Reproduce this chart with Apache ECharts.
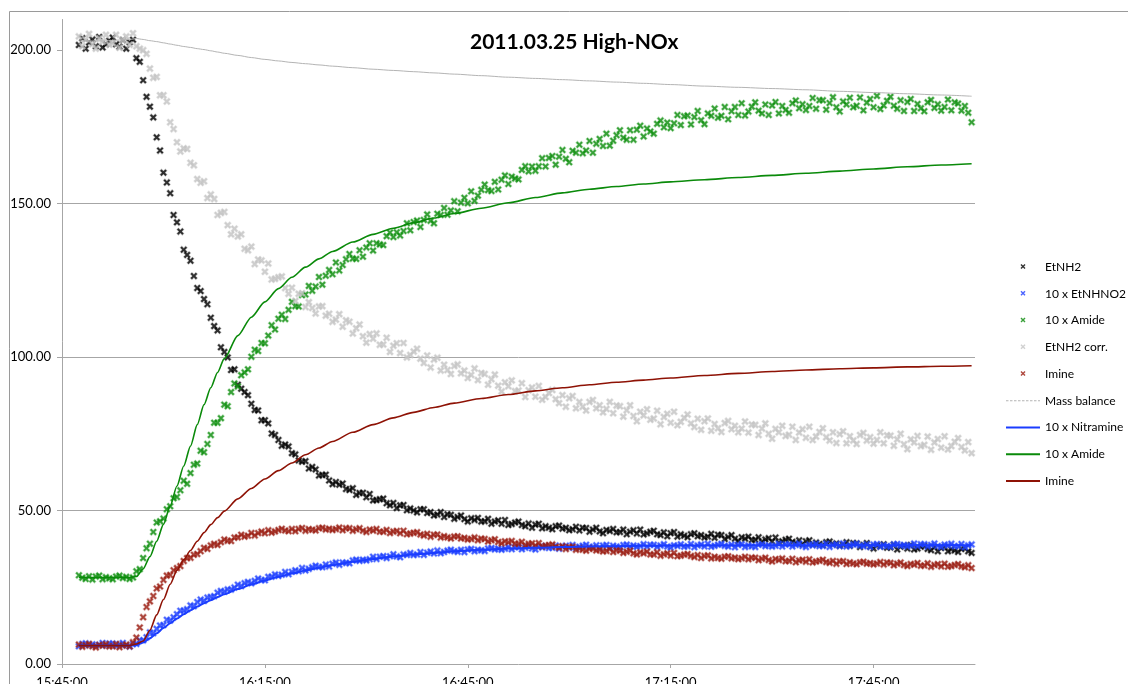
<!DOCTYPE html>
<html>
<head>
<meta charset="utf-8">
<title>2011.03.25 High-NOx</title>
<script src="https://cdn.jsdelivr.net/npm/echarts@6/dist/echarts.min.js"></script>
<style>
  html, body { margin: 0; padding: 0; background: #fff; }
  #chart { width: 1128px; height: 684px; }
</style>
</head>
<body>
<div id="chart"></div>
<script>
// Sample clock: minutes after 15:45:00
const sampleMinutes = [
  2.5,3,3.5,4,4.5,5,5.5,6,6.5,7,
  7.5,8,8.5,9,9.5,10,10.5,11,11.5,12,
  12.5,13,13.5,14,14.5,15,15.5,16,16.5,17,
  17.5,18,18.5,19,19.5,20,20.5,21,21.5,22,
  22.5,23,23.5,24,24.5,25,25.5,26,26.5,27,
  27.5,28,28.5,29,29.5,30,30.5,31,31.5,32,
  32.5,33,33.5,34,34.5,35,35.5,36,36.5,37,
  37.5,38,38.5,39,39.5,40,40.5,41,41.5,42,
  42.5,43,43.5,44,44.5,45,45.5,46,46.5,47,
  47.5,48,48.5,49,49.5,50,50.5,51,51.5,52,
  52.5,53,53.5,54,54.5,55,55.5,56,56.5,57,
  57.5,58,58.5,59,59.5,60,60.5,61,61.5,62,
  62.5,63,63.5,64,64.5,65,65.5,66,66.5,67,
  67.5,68,68.5,69,69.5,70,70.5,71,71.5,72,
  72.5,73,73.5,74,74.5,75,75.5,76,76.5,77,
  77.5,78,78.5,79,79.5,80,80.5,81,81.5,82,
  82.5,83,83.5,84,84.5,85,85.5,86,86.5,87,
  87.5,88,88.5,89,89.5,90,90.5,91,91.5,92,
  92.5,93,93.5,94,94.5,95,95.5,96,96.5,97,
  97.5,98,98.5,99,99.5,100,100.5,101,101.5,102,
  102.5,103,103.5,104,104.5,105,105.5,106,106.5,107,
  107.5,108,108.5,109,109.5,110,110.5,111,111.5,112,
  112.5,113,113.5,114,114.5,115,115.5,116,116.5,117,
  117.5,118,118.5,119,119.5,120,120.5,121,121.5,122,
  122.5,123,123.5,124,124.5,125,125.5,126,126.5,127,
  127.5,128,128.5,129,129.5,130,130.5,131,131.5,132,
  132.5,133,133.5,134,134.5
];

// Measured EtNH2
const etnh2 = [
  201.7,203.9,200.5,202.5,203.5,201.3,204.3,200.9,201.9,203.1,
  204.1,201.9,201.1,203.3,200.5,202.6,203.4,197.4,196.2,190.2,
  184.8,181.6,178.1,171.6,167.3,160.1,156.9,153.4,146.3,143.9,
  140.9,135.0,133.3,131.4,126.4,122.5,121.5,118.9,117.2,112.8,
  110.1,108.7,103.2,101.7,99.9,95.8,96.0,91.0,89.7,88.6,
  87.6,84.8,82.8,82.6,79.4,79.4,78.4,75.1,74.6,73.0,
  71.1,71.5,70.9,68.7,68.3,66.3,65.9,66.1,63.7,64.2,
  63.4,61.4,61.6,61.7,59.8,58.6,59.3,58.4,58.8,57.0,
  56.7,57.3,55.1,55.7,55.8,54.3,55.4,53.3,53.4,53.7,
  53.9,52.4,51.7,52.5,50.8,51.7,51.8,50.1,50.7,50.0,
  49.4,50.4,50.4,49.2,49.5,48.4,48.7,49.5,47.9,48.8,
  48.6,47.3,47.9,48.4,47.2,46.4,47.5,46.9,47.6,46.4,
  46.5,47.3,45.7,46.4,46.8,45.7,46.9,45.3,45.6,46.1,
  46.4,45.3,44.9,45.8,44.4,45.4,45.7,44.2,44.9,44.4,
  43.9,44.9,45.1,44.1,44.4,43.6,43.9,44.7,43.5,44.4,
  44.3,43.1,43.8,44.4,43.2,42.6,43.7,43.3,44.0,42.9,
  43.0,43.8,42.3,43.1,43.6,42.5,43.8,42.2,42.6,43.1,
  43.4,42.3,42.0,42.9,41.6,42.6,43.0,41.5,42.3,41.8,
  41.3,42.3,42.6,41.6,42.0,41.2,41.5,42.4,41.1,42.1,
  42.0,40.7,41.4,42.0,40.8,40.1,41.3,40.8,41.5,40.4,
  40.5,41.3,39.8,40.6,41.0,39.9,41.2,39.6,40.0,40.5,
  40.8,39.8,39.4,40.3,39.0,40.0,40.3,38.9,39.6,39.1,
  38.7,39.7,39.9,39.0,39.3,38.5,38.9,39.7,38.5,39.4,
  39.3,38.1,38.8,39.4,38.2,37.6,38.7,38.3,39.0,37.9,
  38.0,38.9,37.3,38.2,38.6,37.6,38.8,37.3,37.6,38.2,
  38.5,37.5,37.1,38.1,36.7,37.8,38.1,36.7,37.4,37.0,
  36.5,37.5,37.7,36.7,36.2
];

// Measured EtNHNO2, scaled x10
const etnhno2X10 = [
  5.8,6.55,6.7,6.1,6.4,5.95,6.25,6.85,6.0,6.65,
  6.65,5.9,6.4,6.85,6.05,5.7,6.5,6.55,7.7,7.7,
  8.7,10.3,10.05,11.45,12.55,12.7,14.4,14.2,15.2,16.25,
  17.35,17.4,17.85,19.1,18.85,20.2,21.0,20.6,21.65,21.85,
  22.1,23.25,23.8,23.6,24.3,24.25,24.95,25.85,25.4,26.35,
  26.75,26.3,27.1,27.85,27.35,27.3,28.4,28.45,29.2,28.7,
  29.1,30.0,29.25,30.05,30.55,30.2,31.3,30.5,31.0,31.55,
  32.05,31.6,31.55,32.4,31.75,32.7,33.1,32.3,33.05,32.95,
  32.8,33.75,34.0,33.6,34.0,33.75,34.15,34.95,34.2,34.95,
  35.15,34.5,35.1,35.75,35.05,34.8,35.7,35.55,36.2,35.5,
  35.7,36.5,35.55,36.25,36.65,36.0,37.0,36.1,36.5,36.95,
  37.25,36.7,36.55,37.2,36.45,37.3,37.5,36.7,37.25,37.05,
  36.8,37.65,37.8,37.3,37.6,37.25,37.55,38.15,37.4,38.05,
  38.15,37.4,37.9,38.45,37.65,37.3,38.2,37.95,38.5,37.8,
  37.9,38.6,37.55,38.25,38.55,37.9,38.8,37.9,38.2,38.55,
  38.85,38.2,38.05,38.7,37.85,38.6,38.8,37.9,38.55,38.25,
  38.0,38.75,38.9,38.3,38.6,38.15,38.45,39.05,38.2,38.85,
  38.85,38.1,38.6,39.05,38.25,37.9,38.7,38.45,39.0,38.2,
  38.4,39.1,38.05,38.65,38.95,38.3,39.2,38.2,38.5,38.85,
  39.15,38.5,38.25,38.9,38.05,38.8,39.0,38.1,38.65,38.35,
  38.1,38.85,39.0,38.4,38.7,38.25,38.55,39.15,38.3,38.95,
  39.05,38.3,38.8,39.25,38.45,38.1,38.9,38.65,39.2,38.4,
  38.5,39.2,38.15,38.75,39.05,38.4,39.3,38.3,38.6,38.95,
  39.25,38.6,38.35,39.0,38.15,38.9,39.1,38.2,38.75,38.45,
  38.2,38.95,39.1,38.5,38.8,38.35,38.65,39.25,38.4,39.05,
  39.05,38.3,38.8,39.25,38.45,38.1,38.9,38.65,39.2,38.4,
  38.4,39.1,38.05,38.65,38.95
];

// Measured amide, scaled x10
const amideX10 = [
  28.9,28.1,27.7,28.6,27.5,28.5,28.8,27.6,28.3,27.9,
  27.6,28.5,28.8,28.0,28.4,27.7,28.2,30.2,30.9,34.5,
  37.7,39.2,43.0,46.1,46.5,47.4,50.4,51.4,54.0,54.4,
  56.6,59.7,58.7,62.2,64.9,65.3,69.5,69.0,71.7,74.6,
  78.6,78.6,80.1,84.5,84.0,88.6,91.4,90.4,94.1,95.0,
  96.0,100.1,102.4,102.0,104.6,104.5,107.0,110.4,109.0,112.5,
  113.8,112.4,115.4,118.0,116.6,116.5,120.2,120.4,123.2,121.6,
  123.0,126.1,123.6,126.5,128.4,127.0,130.8,128.2,130.0,131.9,
  133.6,132.1,132.0,134.8,132.7,135.7,137.1,134.7,137.1,136.7,
  136.5,139.4,140.6,139.1,140.7,139.6,141.1,143.6,141.3,144.0,
  144.5,142.4,144.7,146.5,144.4,143.6,146.7,146.3,148.6,146.4,
  147.8,150.8,147.5,150.3,151.9,150.1,154.0,150.9,152.6,154.5,
  156.2,154.4,154.1,157.1,154.6,157.8,159.2,156.4,158.8,158.2,
  157.9,161.0,162.2,160.5,162.1,160.7,162.2,164.8,162.1,164.9,
  165.5,162.7,165.3,167.5,164.6,163.5,167.2,166.6,169.2,166.4,
  167.3,170.4,166.6,169.5,171.1,168.8,172.8,168.9,170.5,172.3,
  173.9,171.5,170.8,173.9,170.8,174.1,175.4,171.9,174.5,173.5,
  172.8,176.0,177.1,174.9,176.4,174.6,176.2,178.9,175.6,178.5,
  178.7,175.8,178.2,180.2,177.2,175.9,179.4,178.6,181.0,178.0,
  178.6,181.5,177.5,180.1,181.5,178.9,182.7,178.7,180.0,181.6,
  183.0,180.3,179.4,182.3,178.9,182.0,183.1,179.4,181.8,180.5,
  179.6,182.7,183.6,181.1,182.4,180.5,181.8,184.4,180.9,183.7,
  183.7,180.6,182.8,184.7,181.4,180.0,183.3,182.3,184.5,181.4,
  181.9,184.6,180.4,182.9,184.1,181.4,185.1,180.8,182.0,183.5,
  184.8,181.9,180.9,183.7,180.2,183.1,184.1,180.2,182.5,181.1,
  180.1,183.0,183.8,181.2,182.4,180.3,181.5,183.9,180.4,183.0,
  182.6,180.3,181.8,179.6,176.5
];

// EtNH2 corrected for dilution
const etnh2Corr = [
  204.5,201.3,203.5,205.3,202.0,200.5,203.8,202.8,205.0,201.8,
  202.3,205.0,200.8,203.3,204.5,201.8,205.5,201.3,200.5,200.0,
  198.8,194.0,191.0,191.3,185.3,185.3,183.3,176.5,174.3,170.0,
  167.0,168.0,167.8,163.3,162.5,158.0,156.8,157.3,151.8,153.0,
  151.5,146.3,147.0,147.3,143.0,140.0,141.8,139.3,140.0,135.3,
  134.8,136.0,130.3,131.8,131.5,127.8,130.5,125.3,125.5,126.0,
  126.3,122.5,120.6,122.6,118.3,120.6,120.8,116.3,117.9,116.0,
  114.2,116.5,116.6,113.5,114.1,111.5,112.2,114.0,109.9,112.0,
  111.5,107.7,109.4,110.6,106.8,104.7,107.5,106.0,107.7,104.0,
  104.1,106.3,101.7,103.7,104.5,101.3,104.6,99.9,100.7,101.8,
  102.7,99.5,98.1,100.5,96.6,99.2,99.8,95.6,97.5,95.8,
  94.5,97.1,97.6,94.7,95.6,93.2,94.2,96.3,92.5,94.8,
  94.5,91.0,92.8,94.3,90.7,88.8,91.8,90.5,92.4,88.9,
  89.1,91.5,87.0,89.2,90.1,87.1,90.6,86.1,87.0,88.3,
  89.3,86.3,85.0,87.6,83.8,86.6,87.3,83.3,85.4,83.8,
  82.6,85.4,86.0,83.3,84.3,82.0,83.1,85.4,81.7,84.2,
  84.0,80.6,82.7,84.3,80.8,79.1,82.2,81.0,83.0,79.6,
  80.0,82.5,78.1,80.5,81.5,78.6,82.2,77.8,78.9,80.2,
  81.3,78.4,77.2,79.9,76.3,79.1,80.0,76.0,78.2,76.8,
  75.6,78.5,79.2,76.5,77.6,75.5,76.7,79.0,75.4,78.0,
  77.9,74.6,76.7,78.4,75.0,73.4,76.6,75.5,77.6,74.3,
  74.7,77.3,73.0,75.4,76.5,73.7,77.3,73.0,74.1,75.6,
  76.8,73.9,72.8,75.5,72.0,74.9,75.8,71.9,74.2,72.8,
  71.7,74.6,75.3,72.8,73.9,71.8,73.0,75.5,71.9,74.5,
  74.4,71.1,73.2,75.0,71.6,70.0,73.2,72.2,74.3,71.0,
  71.4,74.1,69.8,72.2,73.3,70.5,74.2,69.9,71.0,72.4,
  73.6,70.7,69.6,72.3,68.7
];

// Measured imine
const imine = [
  6.35,5.6,6.1,6.55,5.75,5.4,6.2,5.95,6.5,5.7,
  5.8,6.5,5.45,6.05,6.35,5.7,7.1,8.6,11.9,15.25,
  18.55,20.4,22.15,24.6,25.25,27.4,28.8,29.0,30.55,31.25,
  31.9,33.55,34.5,34.6,35.6,35.85,36.75,37.85,37.5,38.65,
  39.15,38.8,39.7,40.55,40.15,40.1,41.2,41.25,42.1,41.5,
  41.8,42.7,41.85,42.65,43.15,42.6,43.6,42.8,43.2,43.65,
  44.05,43.5,43.25,44.0,43.25,44.0,44.3,43.4,43.95,43.75,
  43.5,44.25,44.4,43.8,44.1,43.65,43.95,44.45,43.6,44.25,
  44.25,43.4,43.9,44.25,43.45,43.0,43.8,43.45,44.0,43.1,
  43.1,43.7,42.65,43.15,43.35,42.6,43.4,42.3,42.5,42.75,
  42.95,42.2,41.85,42.4,41.45,42.1,42.2,41.2,41.65,41.25,
  40.9,41.55,41.6,40.9,41.1,40.55,40.75,41.25,40.3,40.85,
  40.75,39.9,40.3,40.65,39.75,39.3,40.0,39.65,40.1,39.2,
  39.2,39.8,38.65,39.15,39.35,38.6,39.4,38.3,38.5,38.75,
  38.95,38.2,37.85,38.4,37.45,38.1,38.2,37.2,37.65,37.25,
  36.9,37.55,37.6,37.0,37.2,36.65,36.85,37.45,36.5,37.05,
  36.95,36.2,36.6,36.95,36.05,35.7,36.4,36.05,36.6,35.7,
  35.7,36.4,35.25,35.75,36.05,35.3,36.2,35.1,35.3,35.65,
  35.85,35.2,34.85,35.5,34.55,35.2,35.4,34.4,34.95,34.55,
  34.3,34.95,35.1,34.4,34.7,34.15,34.45,34.95,34.1,34.65,
  34.65,33.8,34.3,34.65,33.85,33.4,34.2,33.85,34.4,33.5,
  33.6,34.3,33.15,33.75,33.95,33.3,34.1,33.1,33.4,33.65,
  33.95,33.2,32.95,33.6,32.65,33.4,33.5,32.6,33.15,32.75,
  32.5,33.15,33.3,32.7,32.9,32.45,32.75,33.25,32.4,33.05,
  32.95,32.2,32.7,33.05,32.25,31.9,32.6,32.35,32.9,32.0,
  32.1,32.8,31.65,32.25,32.55,31.8,32.7,31.7,31.9,32.25,
  32.55,31.8,31.55,32.2,31.25
];

// Model output, minutes after 15:45:00
const modelMinutes = [2.5,6,10,11,12,13,14,15,16,17,18,19,20,21,22,23,24,26,28,30,32,34,36,38,40,43,46,49,52,55,58,62,66,70,74,78,82,86,90,95,100,105,110,115,120,125,130,134.5];
const massBalance = [203,203,203.5,203.8,203.5,203.1,202.8,202.4,202,201.6,201.2,200.9,200.5,200.2,199.8,199.4,199,198.3,197.6,197,196.5,196,195.6,195.2,194.8,194.3,193.8,193.4,193,192.6,192.2,191.7,191.2,190.8,190.4,190,189.6,189.2,188.8,188.3,187.9,187.5,187.1,186.6,186.2,185.8,185.4,185];
const nitramineModelX10 = [6,6,6,6.2,7,8.4,10,11.7,13.3,14.8,16.2,17.5,18.7,19.8,20.8,21.8,22.7,24.4,25.9,27.2,28.4,29.5,30.5,31.4,32.2,33.3,34.2,35,35.7,36.2,36.7,37.2,37.6,37.9,38.1,38.3,38.4,38.5,38.6,38.6,38.7,38.7,38.7,38.7,38.7,38.7,38.7,38.7];
const amideModelX10 = [28.2,28.2,28.2,28.5,31,35,40,45.5,51.5,58,64.5,71,78,84.5,90,95,99.5,107,113,118,122.3,126,129.3,132,134.4,137.5,140,142,143.8,145.3,146.8,148.5,150.3,152,153.5,154.7,155.6,156.4,157.1,157.8,158.5,159.2,159.9,160.6,161.3,162,162.6,163];
const imineModel = [6,6,6,6.5,7.5,11,16,21,26,30.5,34,37,40,42.8,45.4,47.7,49.8,53.8,57.2,60.3,63,65.5,68.2,70.4,72.5,75.5,78,80.2,82,83.6,85,86.5,87.8,89,90,91,91.8,92.5,93.2,94,94.7,95.3,95.8,96.2,96.5,96.8,97,97.2];

// Axis ticks
const timeTicks = [0, 30, 60, 90, 120];          // minutes after 15:45:00
const valueTicks = [0, 50, 100, 150, 200];

const FONT = 'Lato, "Liberation Sans", sans-serif';

function clockLabel(m) {
  const total = 15 * 60 + 45 + m;
  const h = Math.floor(total / 60);
  const mm = Math.round(total - h * 60);
  return h + ':' + String(mm).padStart(2, '0') + ':00';
}
function pairs(xs, ys) { return xs.map((x, i) => [x, ys[i]]); }

// Cross marker used by the measured series
const CROSS = 'path://M0,1.2 L1.2,0 L3,1.8 L4.8,0 L6,1.2 L4.2,3 L6,4.8 L4.8,6 L3,4.2 L1.2,6 L0,4.8 L1.8,3 Z';
// Legend icons drawn inside a 34x14 box
const LEG_CROSS = 'path://M0,0 M34,14 M14.5,5 L15.5,4 L17,5.5 L18.5,4 L19.5,5 L18,6.5 L19.5,8 L18.5,9 L17,7.5 L15.5,9 L14.5,8 L16,6.5 Z';
const LEG_LINE = 'path://M0,0 M34,14 M0,6 L34,6 L34,8 L0,8 Z';
const LEG_DASH = 'path://M0,0 M34,14 M0,6.5 h2.5 v1 h-2.5 Z M4,6.5 h2.5 v1 h-2.5 Z M8,6.5 h2.5 v1 h-2.5 Z M12,6.5 h2.5 v1 h-2.5 Z M16,6.5 h2.5 v1 h-2.5 Z M20,6.5 h2.5 v1 h-2.5 Z M24,6.5 h2.5 v1 h-2.5 Z M28,6.5 h2.5 v1 h-2.5 Z M32,6.5 h2 v1 h-2 Z';

function measured(name, ys, color, halo) {
  return {
    type: 'scatter', name: name, data: pairs(sampleMinutes, ys),
    symbol: CROSS, symbolSize: 6.5,
    itemStyle: { color: color, borderColor: halo, borderWidth: 1.2 },
    silent: true
  };
}
function model(name, ys, color, width) {
  return {
    type: 'line', name: name, data: pairs(modelMinutes, ys),
    showSymbol: false, symbol: 'none', smooth: 0.25, smoothMonotone: 'x',
    lineStyle: { color: color, width: width },
    itemStyle: { color: color },
    silent: true
  };
}

const chart = echarts.init(document.getElementById('chart'), null, { renderer: 'canvas' });
chart.setOption({
  animation: false,
  backgroundColor: '#ffffff',
  title: {
    text: '2011.03.25 High-NOx',
    left: 465, top: 27,
    textStyle: { fontFamily: FONT, fontSize: 21, fontWeight: 'bold', color: '#000' }
  },
  graphic: [{
    type: 'rect', silent: true, z: -10,
    shape: { x: 9.5, y: 11.5, width: 1400, height: 900 },
    style: { fill: 'none', stroke: '#9a9a9a', lineWidth: 1 }
  }],
  grid: { left: 62, right: 153, top: 19.5, bottom: 20, containLabel: false, outerBoundsMode: 'none' },
  legend: {
    orient: 'vertical', left: 1001, top: 255,
    itemWidth: 34, itemHeight: 14, itemGap: 12.75,
    itemStyle: { borderWidth: 0 },
    textStyle: { fontFamily: FONT, fontSize: 12, color: '#000' },
    data: [
      { name: 'EtNH2', icon: LEG_CROSS },
      { name: '10 x EtNHNO2', icon: LEG_CROSS },
      { name: '10 x Amide', icon: LEG_CROSS },
      { name: 'EtNH2 corr.', icon: LEG_CROSS },
      { name: 'Imine', icon: LEG_CROSS },
      { name: 'Mass balance', icon: LEG_DASH },
      { name: '10 x Nitramine', icon: LEG_LINE },
      { name: '10 x Amide ', icon: LEG_LINE },
      { name: 'Imine ', icon: LEG_LINE }
    ]
  },
  xAxis: {
    type: 'value', min: 0, max: 135, interval: 30,
    axisLine: { show: true, lineStyle: { color: '#a6a6a6', width: 1 } },
    axisTick: { show: true, length: 4, customValues: timeTicks, lineStyle: { color: '#a6a6a6' } },
    axisLabel: {
      customValues: timeTicks, formatter: clockLabel, margin: 12,
      fontFamily: FONT, fontSize: 13, color: '#000'
    },
    splitLine: { show: false }
  },
  yAxis: {
    type: 'value', min: 0, max: 210, interval: 50,
    axisLine: { show: true, lineStyle: { color: '#a6a6a6', width: 1 } },
    axisTick: { show: true, length: 5, customValues: valueTicks, lineStyle: { color: '#a6a6a6' } },
    axisLabel: {
      customValues: valueTicks, formatter: function (v) { return v.toFixed(2); },
      margin: 11, fontFamily: FONT, fontSize: 13, color: '#000'
    },
    splitLine: { show: true, showMinLine: false, showMaxLine: false, lineStyle: { color: '#a6a6a6', width: 1 } }
  },
  series: [
    measured('EtNH2', etnh2, '#000000', 'rgba(0,0,0,0.35)'),
    measured('10 x EtNHNO2', etnhno2X10, '#1f3dff', 'rgba(40,80,255,0.4)'),
    measured('10 x Amide', amideX10, '#0a8a0a', 'rgba(30,160,30,0.4)'),
    measured('EtNH2 corr.', etnh2Corr, '#c6c6c6', 'rgba(195,195,195,0.5)'),
    measured('Imine', imine, '#9a1a0e', 'rgba(160,40,30,0.4)'),
    model('Mass balance', massBalance, '#b4b4b4', 1),
    model('10 x Nitramine', nitramineModelX10, '#1a3cff', 2),
    model('10 x Amide ', amideModelX10, '#0a8a0a', 1.6),
    model('Imine ', imineModel, '#8e1205', 1.6)
  ]
});
</script>
</body>
</html>
